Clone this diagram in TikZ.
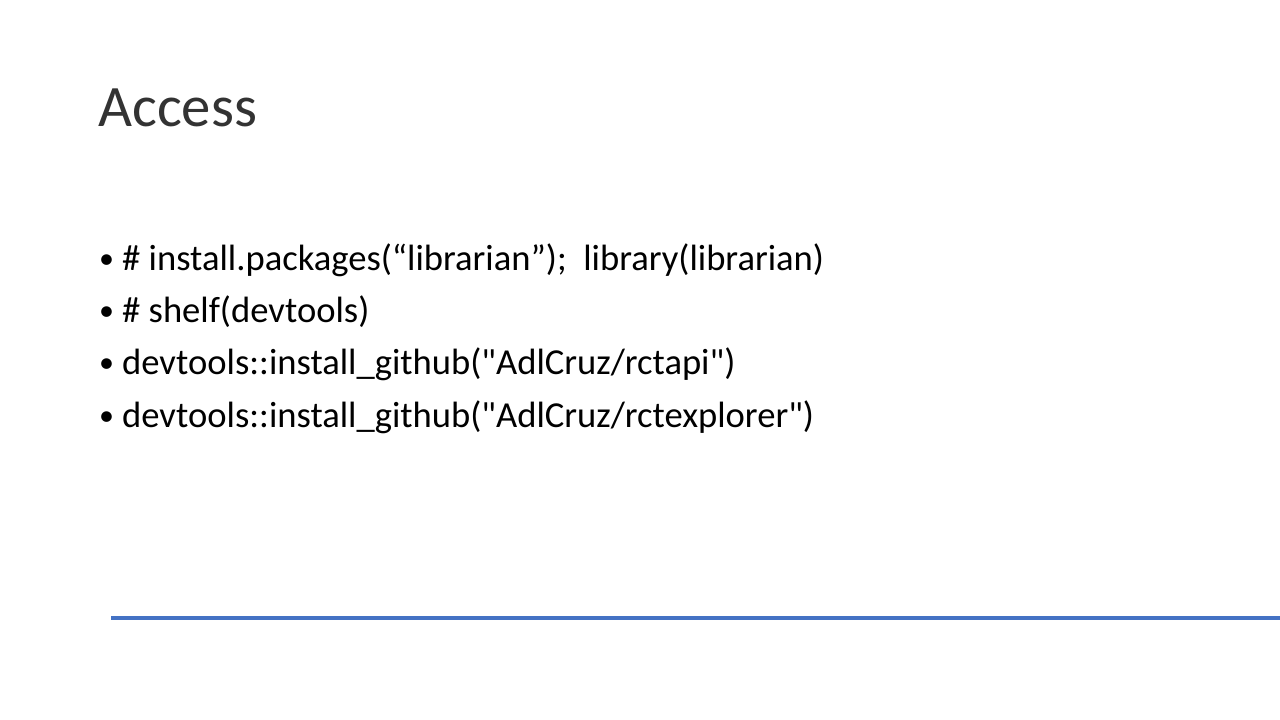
\documentclass[tikz,border=0pt]{standalone}
\usepackage{fontspec}
\setmainfont{Carlito}[Ligatures=TeXOff]
\definecolor{accentblue}{HTML}{4472C4}
\begin{document}
\begin{tikzpicture}[x=1pt,y=-1pt,
  titletext/.style={anchor=base west,inner sep=0pt,font=\fontsize{58.7}{70}\selectfont,text=black!80},
  bullettext/.style={anchor=base west,inner sep=0pt,font=\fontsize{36.6}{45}\selectfont,text=black},
  bulletdot/.style={anchor=base west,inner sep=0pt,font=\fontsize{30}{45}\selectfont,text=black}]
\useasboundingbox (0,0) rectangle (1280,720);
\fill[white] (0,0) rectangle (1280,720);
\node[titletext] (title) at (98,126) {Access};
\node[bulletdot] (d1) at (99,268) {•};
\node[bullettext] (b1) at (122,270) {\# install.packages(“librarian”);\ \ library(librarian)};
\node[bulletdot] (d2) at (99,320) {•};
\node[bullettext] (b2) at (122,322) {\# shelf(devtools)};
\node[bulletdot] (d3) at (99,372) {•};
\node[bullettext] (b3) at (122,374) {devtools::install\_github("AdlCruz/rctapi")};
\node[bulletdot] (d4) at (99,425) {•};
\node[bullettext] (b4) at (122,427) {devtools::install\_github("AdlCruz/rctexplorer")};
\coordinate (l1) at (111,617.5);
\coordinate (l2) at (1280,617.5);
\draw[accentblue,line width=4pt] (l1) -- (l2);
\end{tikzpicture}
\end{document}
